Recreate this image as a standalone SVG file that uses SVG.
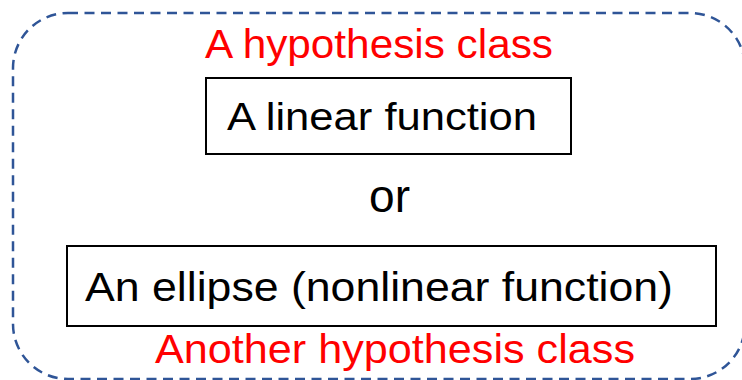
<svg xmlns="http://www.w3.org/2000/svg" width="742" height="380" viewBox="0 0 742 380">
<style>
.frame{fill:none;stroke:#2F5597;stroke-width:2.5;stroke-dasharray:10 6.5}
.box{fill:#fff;stroke:#000;stroke-width:2}
.t{font-family:"Liberation Sans",Arial,sans-serif;fill:#000}
.red{font-family:"Liberation Sans",Arial,sans-serif;fill:#FF0000}
</style>
<rect width="742" height="380" fill="#fff"/>
<g id="hypothesis-space">
<rect class="frame" x="13" y="13" width="732" height="366" rx="55" ry="55"/>
</g>
<g id="label-top">
<text class="red" x="205" y="58" font-size="40" textLength="348" lengthAdjust="spacingAndGlyphs">A hypothesis class</text>
</g>
<g id="linear">
<rect class="box" x="206" y="78" width="365" height="76"/>
<text class="t" x="227" y="130" font-size="38" textLength="310" lengthAdjust="spacingAndGlyphs">A linear function</text>
</g>
<g id="or">
<text class="t" x="369" y="212" font-size="47" textLength="41" lengthAdjust="spacingAndGlyphs">or</text>
</g>
<g id="ellipse">
<rect class="box" x="67" y="246" width="649" height="80"/>
<text class="t" x="85" y="301" font-size="40" textLength="588" lengthAdjust="spacingAndGlyphs">An ellipse (nonlinear function)</text>
</g>
<g id="label-bottom">
<text class="red" x="155" y="363" font-size="41" textLength="480" lengthAdjust="spacingAndGlyphs">Another hypothesis class</text>
</g>
<g id="connectors"></g>
</svg>
